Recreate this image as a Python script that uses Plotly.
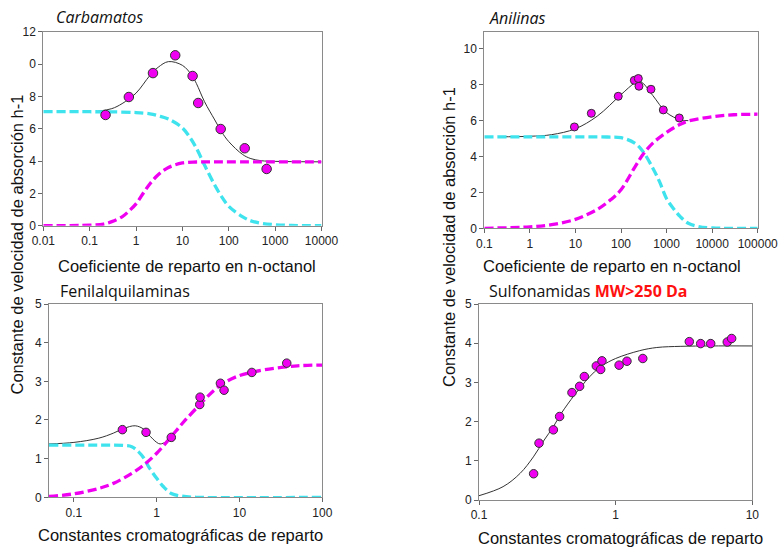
import plotly.graph_objects as go

# ---------------- data ----------------
# Carbamatos (top-left)
tl_pts_x = [0.22, 0.70, 2.32, 7.0, 16.6, 21.9, 67, 221, 656]
tl_pts_y = [6.85, 7.96, 9.44, 10.54, 9.26, 7.59, 5.98, 4.79, 3.51]
tl_fit_x = [0.15, 0.3, 0.5, 1, 2, 3, 5, 10, 16, 20, 30, 50, 70, 100, 200, 300, 500, 1000, 3000, 10000]
tl_fit_y = [7.08, 7.24, 7.55, 8.2, 9.3, 9.8, 10.15, 9.92, 9.3, 8.8, 7.67, 6.54, 5.81, 5.2, 4.4, 4.15, 4.02, 3.98, 3.96, 3.95]
tl_cyan_x = [0.01, 0.1, 0.3, 1, 2, 3, 5, 10, 15, 20, 30, 50, 70, 100, 200, 300, 500, 1000, 3000, 10000]
tl_cyan_y = [7.05, 7.05, 7.04, 7.0, 6.92, 6.8, 6.6, 6.05, 5.4, 4.8, 3.75, 2.5, 1.8, 1.2, 0.55, 0.3, 0.15, 0.06, 0.01, 0.0]
tl_mag_x = [0.01, 0.1, 0.2, 0.3, 0.5, 0.7, 1, 1.5, 2, 3, 5, 10, 20, 50, 10000]
tl_mag_y = [0.0, 0.03, 0.1, 0.25, 0.55, 0.9, 1.35, 2.1, 2.6, 3.15, 3.6, 3.88, 3.94, 3.95, 3.95]

# Anilinas (top-right)
tr_pts_x = [9.5, 22.3, 87, 196, 240, 248, 455, 848, 1900]
tr_pts_y = [5.65, 6.41, 7.36, 8.25, 8.35, 7.92, 7.75, 6.6, 6.15]
tr_fit_x = [0.2, 1, 3, 10, 30, 100, 200, 250, 300, 500, 1000, 2000, 3000]
tr_fit_y = [5.1, 5.13, 5.22, 5.55, 6.25, 7.45, 8.1, 8.18, 8.1, 7.4, 6.45, 6.05, 6.0]
tr_cyan_x = [0.1, 1, 10, 50, 100, 200, 300, 500, 700, 1000, 1500, 2000, 3000, 5000, 10000, 100000]
tr_cyan_y = [5.1, 5.1, 5.1, 5.09, 5.05, 4.75, 4.3, 3.35, 2.6, 1.65, 1.02, 0.65, 0.28, 0.1, 0.02, 0.0]
tr_mag_x = [0.1, 1, 3, 10, 30, 60, 100, 200, 300, 500, 1000, 2000, 3000, 10000, 30000, 100000]
tr_mag_y = [0.0, 0.08, 0.2, 0.5, 1.05, 1.6, 2.15, 3.4, 4.1, 4.75, 5.35, 5.8, 5.98, 6.22, 6.33, 6.36]

# Fenilalquilaminas (bottom-left)
bl_pts_x = [0.385, 0.743, 1.50, 3.31, 3.34, 5.88, 6.51, 14.1, 37.2]
bl_pts_y = [1.75, 1.68, 1.55, 2.40, 2.59, 2.95, 2.77, 3.23, 3.47]
bl_fit_x = [0.05, 0.1, 0.2, 0.3, 0.4, 0.55, 0.7, 0.8, 1.0, 1.1, 1.3, 1.5]
bl_fit_y = [1.38, 1.42, 1.53, 1.66, 1.78, 1.85, 1.76, 1.62, 1.42, 1.38, 1.44, 1.57]
bl_cyan_x = [0.05, 0.2, 0.4, 0.5, 0.6, 0.7, 0.8, 1.0, 1.2, 1.5, 2, 3, 100]
bl_cyan_y = [1.35, 1.35, 1.34, 1.31, 1.18, 1.01, 0.79, 0.49, 0.28, 0.1, 0.03, 0.0, 0.0]
bl_mag_x = [0.05, 0.1, 0.2, 0.3, 0.5, 0.7, 1, 1.5, 2, 3, 5, 7, 10, 14, 20, 50, 100]
bl_mag_y = [0.02, 0.09, 0.23, 0.36, 0.62, 0.84, 1.14, 1.57, 1.89, 2.30, 2.78, 3.0, 3.15, 3.23, 3.3, 3.4, 3.42]

# Sulfonamidas (bottom-right)
br_pts_x = [0.251, 0.275, 0.350, 0.389, 0.479, 0.545, 0.590, 0.722, 0.777, 0.794,
            1.06, 1.21, 1.58, 3.46, 4.19, 4.96, 6.56, 7.06]
br_pts_y = [0.67, 1.45, 1.79, 2.13, 2.74, 2.90, 3.15, 3.42, 3.33, 3.55,
            3.44, 3.54, 3.61, 4.04, 3.99, 3.99, 4.03, 4.12]
br_fit_x = [0.1, 0.15, 0.2, 0.25, 0.3, 0.35, 0.4, 0.5, 0.6, 0.7, 0.8, 1.0, 1.5, 2, 3, 5, 10]
br_fit_y = [0.11, 0.34, 0.68, 1.1, 1.53, 1.87, 2.21, 2.68, 3.02, 3.27, 3.43, 3.61, 3.81, 3.89, 3.92, 3.93, 3.93]

# tick labels
tl_xticks = [0.01, 0.1, 1, 10, 100, 1000, 10000]
tl_xtext = ["0.01", "0.1", "1", "10", "100", "1000", "10000"]
tl_yticks = [0, 2, 4, 6, 8, 10, 12]
tl_ytext = ["0", "2", "4", "6", "8", "0", "12"]
tr_xticks = [0.1, 1, 10, 100, 1000, 10000, 100000]
tr_xtext = ["0.1", "1", "10", "100", "1000", "10000", "100000"]
tr_yticks = [0, 2, 4, 6, 8, 10]
bl_xticks = [0.1, 1, 10, 100]
bl_xtext = ["0.1", "1", "10", "100"]
br_xticks = [0.1, 1, 10]
br_xtext = ["0.1", "1", "10"]
b_yticks = [0, 1, 2, 3, 4, 5]

titles = ["Carbamatos", "Anilinas", "Fenilalquilaminas", "Sulfonamidas"]
mw_text = "MW>250 Da"
xtitle_top = "Coeficiente de reparto en n-octanol"
xtitle_bottom = "Constantes cromatográficas de reparto"
ytitle = "Constante de velocidad de absorción h-1"

# ---------------- styling ----------------
W, H = 780, 549
CYAN = "#3FE3EE"
MAG = "#F000F0"
PT = "#F000F0"
DASH = "9px,4px"
FONT = "Liberation Sans, Arial, sans-serif"
TFONT = "Open Sans, sans-serif"

fig = go.Figure()

def add_panel(i, cx, cy, mx, my, fx, fy, px, py, msize):
    xa = "x" if i == 1 else f"x{i}"
    ya = "y" if i == 1 else f"y{i}"
    if fx is not None:
        fig.add_trace(go.Scatter(x=fx, y=fy, mode="lines", line=dict(color="#333333", width=1, shape="spline"),
                                 xaxis=xa, yaxis=ya, showlegend=False, hoverinfo="skip"))
    if cx is not None:
        fig.add_trace(go.Scatter(x=cx, y=cy, mode="lines", line=dict(color=CYAN, width=3.3, dash=DASH, shape="spline"),
                                 xaxis=xa, yaxis=ya, showlegend=False))
    if mx is not None:
        fig.add_trace(go.Scatter(x=mx, y=my, mode="lines", line=dict(color=MAG, width=3.3, dash=DASH, shape="spline"),
                                 xaxis=xa, yaxis=ya, showlegend=False))
    fig.add_trace(go.Scatter(x=px, y=py, mode="markers",
                             marker=dict(color=PT, size=msize, line=dict(color="#333333", width=1)),
                             xaxis=xa, yaxis=ya, showlegend=False))

add_panel(1, tl_cyan_x, tl_cyan_y, tl_mag_x, tl_mag_y, tl_fit_x, tl_fit_y, tl_pts_x, tl_pts_y, 9.5)
add_panel(2, tr_cyan_x, tr_cyan_y, tr_mag_x, tr_mag_y, tr_fit_x, tr_fit_y, tr_pts_x, tr_pts_y, 8)
add_panel(3, bl_cyan_x, bl_cyan_y, bl_mag_x, bl_mag_y, bl_fit_x, bl_fit_y, bl_pts_x, bl_pts_y, 8.5)
add_panel(4, None, None, None, None, br_fit_x, br_fit_y, br_pts_x, br_pts_y, 8.5)

def px_dom(a, b, total):
    return [a / total, b / total]

def py_dom(top, bottom):
    return [1 - bottom / H, 1 - top / H]

def axis(domain, rng, typ, tickvals, ticktext, anchor):
    d = dict(domain=domain, range=rng, type=typ, tickvals=tickvals, ticktext=ticktext,
             showline=True, linecolor="#8a8a8a", linewidth=1, mirror=True,
             ticks="outside", ticklen=4, tickcolor="#666666", tickwidth=1,
             showgrid=False, zeroline=False, anchor=anchor, automargin=False,
             tickfont=dict(family=FONT, size=12, color="#222222"))
    return d

fig.update_layout(
    width=W, height=H, margin=dict(l=0, r=0, t=0, b=0, pad=0, autoexpand=False),
    paper_bgcolor="white", plot_bgcolor="white",
    xaxis=axis(px_dom(43.3, 321.5, W), [-2, 4], "log", tl_xticks, tl_xtext, "y"),
    yaxis=axis(py_dom(31.7, 225.7), [0, 12], "linear", tl_yticks, tl_ytext, "x"),
    xaxis2=axis(px_dom(484.3, 757.7, W), [-1, 5], "log", tr_xticks, tr_xtext, "y2"),
    yaxis2=axis(py_dom(31.7, 228.3), [0, 10.96], "linear", tr_yticks, [str(v) for v in tr_yticks], "x2"),
    xaxis3=axis(px_dom(49, 322.3, W), [-1.301, 2], "log", bl_xticks, bl_xtext, "y3"),
    yaxis3=axis(py_dom(304, 497.3), [0, 5], "linear", b_yticks, [str(v) for v in b_yticks], "x3"),
    xaxis4=axis(px_dom(479, 752.3, W), [-1, 1], "log", br_xticks, br_xtext, "y4"),
    yaxis4=axis(py_dom(304, 500), [0, 5], "linear", b_yticks, [str(v) for v in b_yticks], "x4"),
)

def ann(text, x, y, size, family=FONT, xanchor="center", angle=0, color="#111111"):
    fig.add_annotation(text=text, x=x / W, y=1 - y / H, xref="paper", yref="paper",
                       xanchor=xanchor, yanchor="middle", showarrow=False, textangle=angle,
                       font=dict(family=family, size=size, color=color))

# panel titles
ann("<i>" + titles[0] + "</i>", 54, 17, 16, TFONT, "left")
ann("<i>" + titles[1] + "</i>", 487, 18, 16, TFONT, "left")
ann(titles[2], 58, 291, 16, TFONT, "left")
ann(titles[3] + " <span style='color:#FF1010'><b>" + mw_text + "</b></span>", 487, 291, 16, TFONT, "left")

# axis titles
ann(xtitle_top, 187, 266, 16.5)
ann(xtitle_top, 611.5, 266, 16.5)
ann(xtitle_bottom, 180.5, 535, 16.5)
ann(xtitle_bottom, 620, 538, 16.5)
ann(ytitle, 17, 244.5, 16.5, angle=-90)
ann(ytitle, 449, 237, 16.5, angle=-90)

fig.write_html("out.html")
